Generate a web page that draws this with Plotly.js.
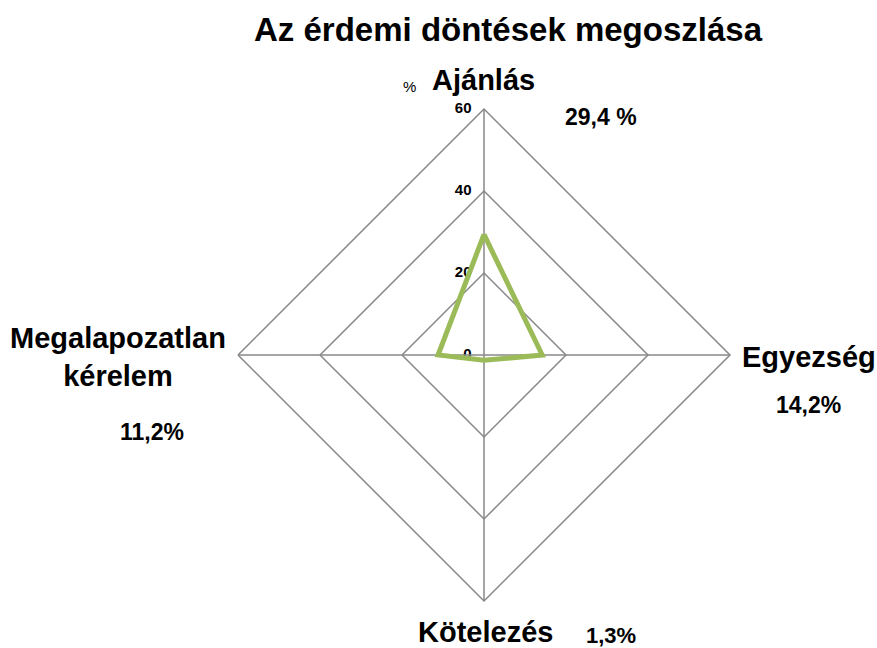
<!DOCTYPE html>
<html><head><meta charset="utf-8">
<script src="https://cdn.plot.ly/plotly-3.0.1.min.js"></script>
<style>html,body{margin:0;padding:0;background:#fff}</style>
</head><body>
<div id="chart" style="width:877px;height:648px"></div>
<script>
const categories = ["Ajánlás", "Egyezség", "Kötelezés", "Megalapozatlan kérelem"];
const values = [29.4, 14.2, 1.3, 11.2];
const valueLabels = ["29,4 %", "14,2%", "1,3%", "11,2%"];
const radialTicks = [0, 20, 40, 60];
const titleText = "Az érdemi döntések megoszlása";

const F = "Liberation Sans, Arial, sans-serif";
const rMax = 60;
const trace = {
  type: "scatterpolar",
  r: values.concat([values[0]]),
  theta: categories.concat([categories[0]]),
  mode: "lines",
  line: {color: "#9BBB59", width: 5},
  hoverinfo: "skip",
  showlegend: false
};
// radial tick labels: on an invisible cartesian frame sharing the polar's scale
const tickTrace = {
  type: "scatter",
  x: radialTicks.map(() => 0),
  y: radialTicks,
  mode: "text",
  text: radialTicks.map(v => "<b>" + v + "</b>\u00a0\u00a0\u00a0"),
  textposition: "middle left",
  textfont: {family: F, size: 15, color: "#000"},
  hoverinfo: "skip",
  showlegend: false,
  cliponaxis: false
};
const W = 877, H = 648;
const ann = (x, y, text, size, bold) => ({
  xref: "paper", yref: "paper", x: x / W, y: 1 - y / H, text: bold ? "<b>" + text + "</b>" : text,
  showarrow: false, font: {family: F, size: size, color: "#000"}, xanchor: "center", yanchor: "middle"
});
const annotations = [
  ann(508, 30, titleText, 33, true),
  ann(409, 86, "%", 15, false),
  ann(484, 80, categories[0], 29, true),
  ann(601, 117, valueLabels[0], 23, true),
  ann(809, 357, categories[1], 29, true),
  ann(808, 405, valueLabels[1], 23, true),
  ann(485, 632, categories[2], 29, true),
  ann(611, 635, valueLabels[2], 22, true),
  ann(118, 357, "Megalapozatlan<br>kérelem", 29, true),
  ann(152, 432, valueLabels[3], 23, true)
];
const cx = 484, cy = 355, R = 246;
const dx = [(cx - R) / W, (cx + R) / W], dy = [1 - (cy + R) / H, 1 - (cy - R) / H];
const hidden = {visible: false, showgrid: false, zeroline: false, fixedrange: true};
const layout = {
  width: W, height: H,
  margin: {l: 0, r: 0, t: 0, b: 0},
  paper_bgcolor: "#fff",
  plot_bgcolor: "rgba(0,0,0,0)",
  showlegend: false,
  xaxis: Object.assign({domain: dx, range: [-rMax, rMax]}, hidden),
  yaxis: Object.assign({domain: dy, range: [-rMax, rMax]}, hidden),
  polar: {
    domain: {x: dx, y: dy},
    bgcolor: "rgba(0,0,0,0)",
    gridshape: "linear",
    angularaxis: {
      direction: "clockwise", rotation: 90,
      categoryorder: "array", categoryarray: categories,
      showticklabels: false, ticks: "",
      showline: true, linecolor: "#888888", linewidth: 1.5,
      showgrid: true, gridcolor: "#888888", gridwidth: 1.5
    },
    radialaxis: {
      range: [0, rMax], tickvals: radialTicks,
      angle: 90, showticklabels: false,
      showline: false, ticks: "",
      showgrid: true, gridcolor: "#888888", gridwidth: 1.5
    }
  },
  annotations: annotations
};
Plotly.newPlot("chart", [trace, tickTrace], layout, {displayModeBar: false, staticPlot: true});
</script>
</body></html>
